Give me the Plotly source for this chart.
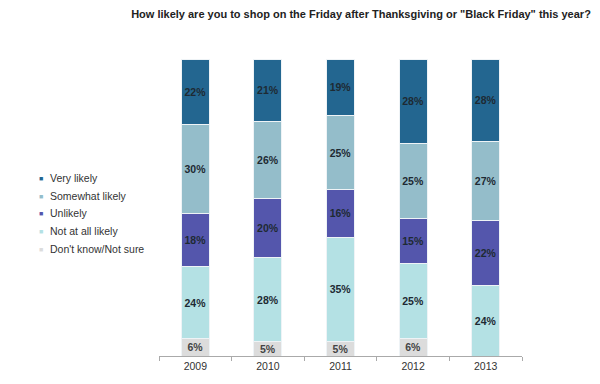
import plotly.graph_objects as go

years = ["2009", "2010", "2011", "2012", "2013"]
dont_know = [6, 5, 5, 6, 0]
not_at_all = [24, 28, 35, 25, 24]
unlikely = [18, 20, 16, 15, 22]
somewhat = [30, 26, 25, 25, 27]
very = [22, 21, 19, 28, 28]

series = [
    ("Don't know/Not sure", dont_know, "#DCDCDC", "#444444"),
    ("Not at all likely", not_at_all, "#B4E1E4", "#1e2a33"),
    ("Unlikely", unlikely, "#5456AC", "#1e2a33"),
    ("Somewhat likely", somewhat, "#94BDCA", "#1e2a33"),
    ("Very likely", very, "#236690", "#1e2a33"),
]

fig = go.Figure()
for name, vals, color, tcolor in series:
    fig.add_trace(go.Bar(
        x=years, y=vals, name=name,
        marker=dict(color=color, line=dict(color="#eef3f6", width=1)),
        text=[f"<b>{v}%</b>" if v > 0 else "" for v in vals],
        textposition="inside", insidetextanchor="middle", textangle=0,
        constraintext="none",
        textfont=dict(family="Liberation Sans, Arial", size=10.5, color=tcolor),
        hoverinfo="skip", showlegend=False,
    ))

# custom legend (small square markers close to the labels, as in the reference)
L, R, T, B = 159, 522, 59, 358
def px_x(p):
    return (p - L) / (R - L)
def px_y(p):
    return (B - p) / (B - T)

legend_rows = [179, 197, 214.5, 232.5, 250.5]
annotations = []
for (name, vals, color, tcolor), row in zip(reversed(series), legend_rows):
    annotations.append(dict(x=px_x(41), y=px_y(row), xref="paper", yref="paper",
                            text="■", showarrow=False, xanchor="center", yanchor="middle",
                            font=dict(size=7, color=color)))
    annotations.append(dict(x=px_x(48), y=px_y(row), xref="paper", yref="paper",
                            text=name, showarrow=False, xanchor="left", yanchor="middle",
                            font=dict(size=10.5, color="#333333")))

fig.update_layout(
    width=600, height=384,
    barmode="stack", barnorm="percent", bargap=0.614,
    paper_bgcolor="white", plot_bgcolor="white",
    margin=dict(l=L, r=600 - R, t=T, b=384 - B),
    font=dict(family="Liberation Sans, Arial", color="#333333"),
    title=dict(text="<b>How likely are you to shop on the Friday after Thanksgiving or \"Black Friday\" this year?</b>",
               x=361 / 600, xanchor="center", y=1 - 14 / 384, yanchor="middle",
               font=dict(size=11, color="#222222")),
    showlegend=False,
    annotations=annotations,
    xaxis=dict(type="category", showline=True, linecolor="#AAAAAA", linewidth=1,
               ticks="outside", tickson="boundaries", ticklen=4, tickcolor="#AAAAAA",
               tickfont=dict(size=10.5, color="#333333"), showgrid=False,
               range=[-0.5, 4.5]),
    yaxis=dict(visible=False, range=[0, 100], showgrid=False),
)

fig.write_html("out.html", config={"displayModeBar": False},
               post_script="document.body.style.margin='0';")
